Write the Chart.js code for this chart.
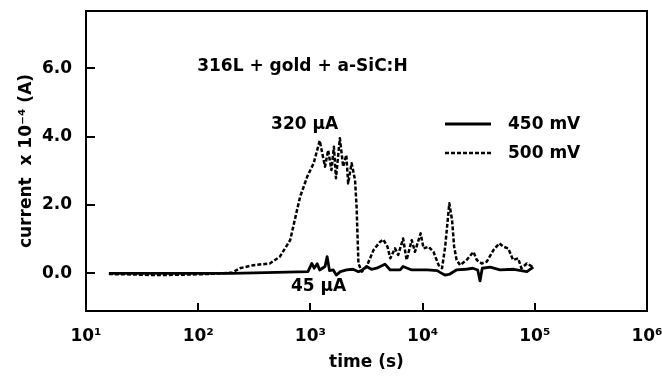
<!DOCTYPE html>
<html>
<head>
<meta charset="utf-8">
<script src="https://cdn.jsdelivr.net/npm/chart.js@4.4.1/dist/chart.umd.min.js"></script>
<style>
  html, body { margin: 0; padding: 0; background: #fff; overflow: hidden; }
  #wrap { width: 662px; height: 383px; position: relative; }
</style>
</head>
<body>
<div id="wrap"><canvas id="chart"></canvas></div>
<script>
// time (s) and current (x 10^-4 A)
const time450 = [16, 60, 200, 500, 950, 1030, 1080, 1150, 1210, 1350, 1410, 1480, 1600, 1700, 1850, 2100, 2400, 2680, 2900, 3170, 3500, 3890, 4620, 5150, 6300, 6700, 8000, 11000, 13500, 14300, 15800, 17500, 20000, 24000, 28000, 31000, 32500, 34000, 40000, 49000, 65000, 85000, 97000];
const current450 = [0, 0, 0, 0.03, 0.05, 0.29, 0.15, 0.28, 0.1, 0.2, 0.49, 0.08, 0.1, -0.05, 0.05, 0.1, 0.12, 0.05, 0.1, 0.2, 0.12, 0.15, 0.27, 0.1, 0.1, 0.2, 0.1, 0.1, 0.08, 0.03, -0.05, -0.02, 0.1, 0.12, 0.15, 0.1, -0.22, 0.15, 0.18, 0.1, 0.12, 0.05, 0.18];

const time500 = [16, 25, 40, 70, 120, 200, 235, 310, 435, 535, 660, 760, 810, 935, 1070, 1210, 1350, 1440, 1540, 1620, 1690, 1830, 1960, 2090, 2170, 2330, 2500, 2580, 2680, 2870, 3170, 3650, 4170, 4460, 4860, 5160, 5670, 6060, 6700, 7200, 8000, 8550, 9600, 10200, 11300, 12500, 13900, 14900, 15900, 17300, 18300, 19100, 20100, 21600, 24700, 28400, 30400, 33600, 37300, 42800, 48300, 52400, 58000, 64000, 71000, 76000, 85000, 97000];
const current500 = [-0.02, -0.03, -0.05, -0.04, -0.02, 0.02, 0.15, 0.24, 0.29, 0.49, 0.97, 1.85, 2.24, 2.82, 3.22, 3.88, 3.12, 3.6, 3.02, 3.70, 2.78, 3.95, 3.12, 3.46, 2.63, 3.22, 2.73, 1.95, 0.29, 0.05, 0.2, 0.68, 0.92, 0.99, 0.78, 0.44, 0.73, 0.54, 1.02, 0.39, 0.97, 0.63, 1.17, 0.73, 0.78, 0.63, 0.24, 0.15, 0.78, 2.05, 1.56, 0.78, 0.39, 0.24, 0.39, 0.63, 0.39, 0.29, 0.34, 0.68, 0.88, 0.78, 0.73, 0.39, 0.44, 0.15, 0.29, 0.18];

const xTicks = [1e1, 1e2, 1e3, 1e4, 1e5, 1e6];
const xTickLabels = ['10¹', '10²', '10³', '10⁴', '10⁵', '10⁶'];
const yTicks = [0, 2, 4, 6];

// text notes placed in data coordinates: [time, current, text]
const notes = [
  [98, 6.05, '316L + gold + a-SiC:H'],
  [446, 4.34, '320 µA'],
  [671, -0.39, '45 µA']
];
const seriesLabels = ['450 mV', '500 mV'];

const FONT = 'bold 17px "DejaVu Sans"';

const frame = {
  id: 'frame',
  afterDraw(chart) {
    const ctx = chart.ctx;
    const a = chart.chartArea;
    const xs = chart.scales.x, ys = chart.scales.y;
    ctx.save();
    ctx.strokeStyle = '#000';
    ctx.lineWidth = 2;
    ctx.strokeRect(a.left, a.top, a.right - a.left, a.bottom - a.top);
    // inward ticks
    ctx.beginPath();
    xTicks.slice(1, -1).forEach(v => {
      const px = Math.round(xs.getPixelForValue(v));
      ctx.moveTo(px, a.bottom);
      ctx.lineTo(px, a.bottom - 8);
    });
    yTicks.forEach(v => {
      const py = Math.round(ys.getPixelForValue(v));
      ctx.moveTo(a.left, py);
      ctx.lineTo(a.left + 9, py);
    });
    ctx.stroke();

    ctx.fillStyle = '#000';
    ctx.font = FONT;
    ctx.textBaseline = 'middle';
    ctx.textAlign = 'left';
    notes.forEach(n => {
      ctx.fillText(n[2], xs.getPixelForValue(n[0]), ys.getPixelForValue(n[1]));
    });

    // legend
    const lx = a.left + 359, ly = a.top + 113;
    ctx.lineWidth = 3;
    ctx.beginPath();
    ctx.moveTo(lx, ly); ctx.lineTo(lx + 46, ly);
    ctx.stroke();
    ctx.lineWidth = 2.5;
    ctx.setLineDash([4, 2]);
    ctx.beginPath();
    ctx.moveTo(lx, ly + 29); ctx.lineTo(lx + 46, ly + 29);
    ctx.stroke();
    ctx.setLineDash([]);
    ctx.fillText(seriesLabels[0], lx + 63, ly + 1);
    ctx.fillText(seriesLabels[1], lx + 63, ly + 30);
    ctx.restore();
  }
};

new Chart(document.getElementById('chart'), {
  type: 'line',
  data: {
    datasets: [
      {
        label: seriesLabels[0],
        data: time450.map((t, i) => ({x: t, y: current450[i]})),
        borderColor: '#000',
        borderWidth: 2.8,
        borderJoinStyle: 'round',
        pointRadius: 0
      },
      {
        label: seriesLabels[1],
        data: time500.map((t, i) => ({x: t, y: current500[i]})),
        borderColor: '#000',
        borderWidth: 2.5,
        borderJoinStyle: 'round',
        borderDash: [4, 2],
        pointRadius: 0
      }
    ]
  },
  options: {
    responsive: true,
    maintainAspectRatio: false,
    animation: false,
    devicePixelRatio: 1,
    layout: { padding: { top: 11, right: 15, bottom: 0, left: 0 } },
    plugins: {
      legend: { display: false },
      tooltip: { enabled: false }
    },
    scales: {
      x: {
        type: 'logarithmic',
        min: 1e1,
        max: 1e6,
        grid: { display: false, drawTicks: false },
        border: { display: false },
        afterBuildTicks: s => { s.ticks = xTicks.map(v => ({value: v})); },
        afterFit: s => { s.height = 72; s.paddingLeft = 0; s.paddingRight = 0; },
        ticks: {
          color: '#000',
          font: { family: 'DejaVu Sans', size: 17, weight: 'bold' },
          padding: 15,
          maxRotation: 0,
          autoSkip: false,
          callback: (v, i) => xTickLabels[i]
        },
        title: {
          display: true,
          text: 'time (s)',
          color: '#000',
          font: { family: 'DejaVu Sans', size: 17, weight: 'bold' },
          padding: { top: 4, bottom: 10 }
        }
      },
      y: {
        min: -1.1,
        max: 7.67,
        grid: { display: false, drawTicks: false },
        border: { display: false },
        afterBuildTicks: s => { s.ticks = yTicks.map(v => ({value: v})); },
        afterFit: s => { s.width = 86; s.paddingTop = 0; s.paddingBottom = 0; },
        ticks: {
          color: '#000',
          font: { family: 'DejaVu Sans', size: 17, weight: 'bold' },
          padding: 14,
          callback: v => v.toFixed(1)
        },
        title: {
          display: true,
          text: 'current  x 10⁻⁴ (A)',
          color: '#000',
          font: { family: 'DejaVu Sans', size: 17, weight: 'bold' },
          padding: { top: 16, bottom: 4 }
        }
      }
    }
  },
  plugins: [frame]
});
</script>
</body>
</html>
